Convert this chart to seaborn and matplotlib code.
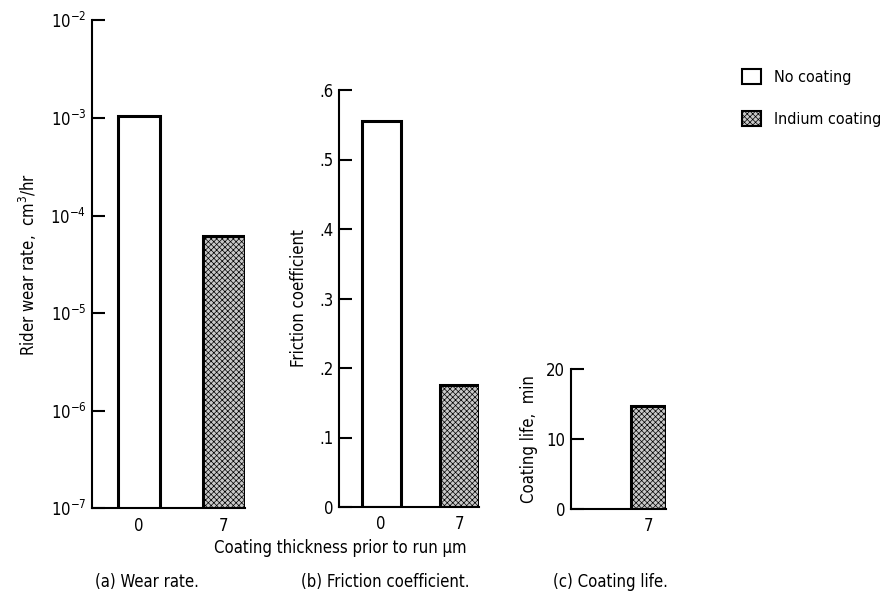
import matplotlib
matplotlib.use("Agg")
import matplotlib.pyplot as plt
from matplotlib.patches import Patch
import pandas as pd
import seaborn as sns

# values
thickness = ["0", "7"]
coating = ["No coating", "Indium coating"]
wear_rate = [1.05e-3, 6.1e-5]          # cm^3/hr
friction = [0.555, 0.175]
life_thickness = ["7"]
life_coating = ["Indium coating"]
coating_life = [14.7]                  # min

sns.set_theme(style="white")
plt.rcParams["font.family"] = ["DejaVu Sans"]
plt.rcParams["font.stretch"] = "condensed"
plt.rcParams["text.color"] = "black"
plt.rcParams["axes.labelcolor"] = "black"
plt.rcParams["mathtext.fontset"] = "custom"
plt.rcParams["mathtext.rm"] = "DejaVu Sans:stretch=condensed"
plt.rcParams["mathtext.it"] = "DejaVu Sans:stretch=condensed"
plt.rcParams["hatch.linewidth"] = 0.5
plt.rcParams["hatch.color"] = "#2a2a2a"

palette = {"No coating": "white", "Indium coating": "#c8c8c8"}
FS = 12

wear_df = pd.DataFrame({"thickness": thickness, "coating": coating, "value": wear_rate})
fric_df = pd.DataFrame({"thickness": thickness, "coating": coating, "value": friction})
life_df = pd.DataFrame({"thickness": life_thickness, "coating": life_coating, "value": coating_life})

fig = plt.figure(figsize=(8.85, 6), dpi=100)
ax_a = fig.add_axes([0.104, 0.153, 0.173, 0.813])
ax_b = fig.add_axes([0.383, 0.155, 0.158, 0.695])
ax_c = fig.add_axes([0.645, 0.152, 0.108, 0.233])


def style_axis(ax):
    for s in ["top", "right"]:
        ax.spines[s].set_visible(False)
    for s in ["left", "bottom"]:
        ax.spines[s].set_color("black")
        ax.spines[s].set_linewidth(1.5)
    ax.tick_params(axis="y", which="major", left=True, direction="in", length=9,
                   width=1.5, colors="black", labelsize=FS, pad=4)
    ax.tick_params(axis="y", which="minor", left=False, length=0)
    ax.tick_params(axis="x", bottom=False, length=0, labelsize=FS, pad=6, colors="black")
    ax.set_xlabel("")
    ax.grid(False)


def draw(ax, df):
    sns.barplot(data=df, x="thickness", y="value", hue="coating", order=thickness,
                palette=palette, dodge=False, width=0.5, edgecolor="black",
                linewidth=2.2, legend=False, ax=ax)
    for p in ax.patches:
        if p.get_facecolor()[0] < 0.95:
            p.set_hatch("xxxxxx")


# (a) wear rate, log scale
ax_a.set_yscale("log")
draw(ax_a, wear_df)
ax_a.set_ylim(1e-7, 1e-2)
ax_a.set_xlim(-0.55, 1.25)
ax_a.set_yticks([1e-7, 1e-6, 1e-5, 1e-4, 1e-3, 1e-2])
ax_a.set_yticklabels([r"10$^{-7}$", r"10$^{-6}$", r"10$^{-5}$", r"10$^{-4}$",
                      r"10$^{-3}$", r"10$^{-2}$"])
style_axis(ax_a)
ax_a.set_ylabel(r"Rider wear rate,  cm$^3$/hr", fontsize=FS, labelpad=8)

# (b) friction coefficient
draw(ax_b, fric_df)
ax_b.set_ylim(0, 0.6)
ax_b.set_xlim(-0.54, 1.25)
ax_b.set_yticks([0, 0.1, 0.2, 0.3, 0.4, 0.5, 0.6])
ax_b.set_yticklabels(["0", ".1", ".2", ".3", ".4", ".5", ".6"])
style_axis(ax_b)
ax_b.set_ylabel("Friction coefficient", fontsize=FS, labelpad=8)

# (c) coating life
draw(ax_c, life_df)
ax_c.set_ylim(0, 20)
ax_c.set_xlim(-0.1, 1.25)
ax_c.set_xticks([1])
ax_c.set_xticklabels(["7"])
ax_c.set_yticks([0, 10, 20])
style_axis(ax_c)
ax_c.set_ylabel("Coating life,  min", fontsize=FS, labelpad=6)

fig.text(0.385, 0.087, "Coating thickness prior to run μm", ha="center",
         va="center", fontsize=FS)
fig.text(0.166, 0.03, "(a) Wear rate.", ha="center", va="center", fontsize=FS)
fig.text(0.435, 0.03, "(b) Friction coefficient.", ha="center", va="center", fontsize=FS)
fig.text(0.69, 0.03, "(c) Coating life.", ha="center", va="center", fontsize=FS)

handles = [Patch(facecolor="white", edgecolor="black", linewidth=1.5, label="No coating"),
           Patch(facecolor="#c8c8c8", edgecolor="black", linewidth=1.5, hatch="xxxxxx",
                 label="Indium coating")]
fig.legend(handles=handles, loc="upper left", bbox_to_anchor=(0.838, 0.885),
           frameon=False, fontsize=11.5, handlelength=1.2, handleheight=1.1,
           labelspacing=1.6, handletextpad=0.8, borderaxespad=0, borderpad=0,
           labelcolor="black")

fig.savefig("out.png", dpi=100)
